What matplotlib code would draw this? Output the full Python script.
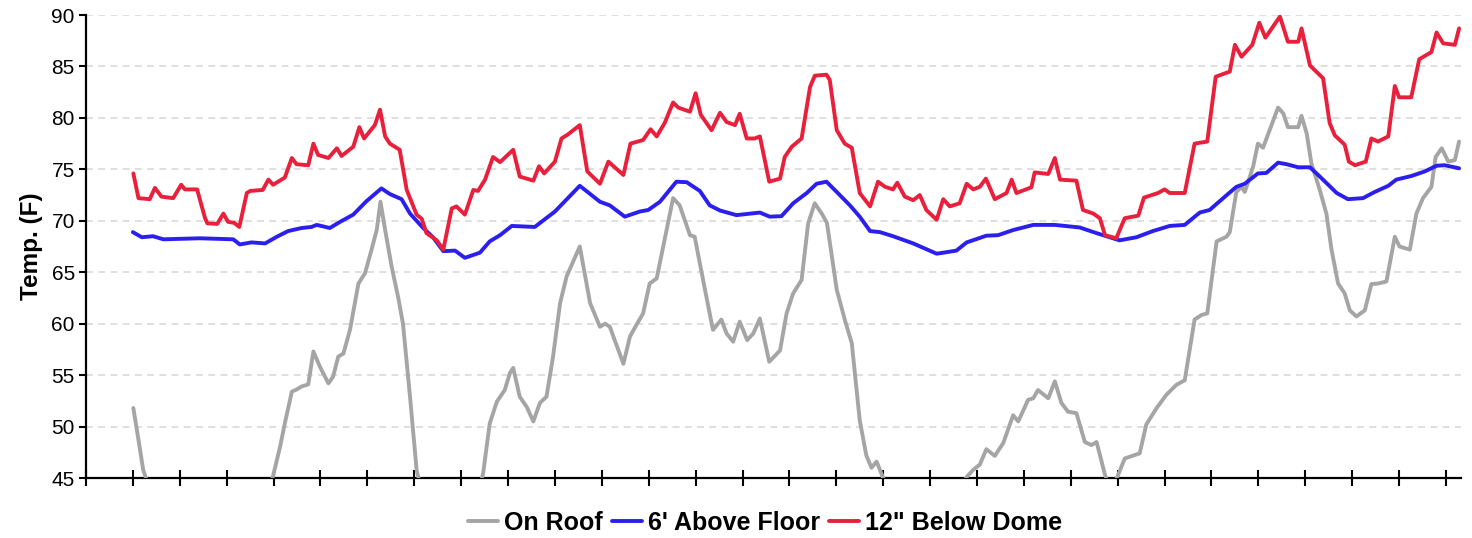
import matplotlib
matplotlib.use("Agg")
import matplotlib.pyplot as plt

plt.rcParams['font.family'] = ['Liberation Sans', 'DejaVu Sans']

# ---- data (time in tick intervals, temperature in F) ----
roof_t = [1.01, 1.12, 1.22, 1.5, 2.5, 3.5, 3.9,
          4.01, 4.14, 4.24, 4.39, 4.49, 4.60, 4.74, 4.85, 4.99, 5.17, 5.27, 5.38, 5.49,
          5.63, 5.81, 5.95, 6.09, 6.20, 6.28, 6.38, 6.52, 6.66, 6.76, 6.91, 7.05,
          7.3, 7.8, 8.3,
          8.47, 8.61, 8.76, 8.93, 9.04, 9.11, 9.25, 9.40, 9.54, 9.68, 9.82, 9.96, 10.11,
          10.25, 10.53, 10.75, 10.96, 11.07, 11.17, 11.46, 11.60, 11.74, 11.88, 12.02,
          12.17, 12.31, 12.52, 12.66, 12.88, 12.98, 13.20, 13.37, 13.55, 13.66, 13.80,
          13.94, 14.10, 14.23, 14.37, 14.57, 14.80, 14.94, 15.08, 15.26, 15.40, 15.54,
          15.69, 15.80, 16.01, 16.18, 16.33, 16.50, 16.64, 16.75, 16.86, 16.99,
          17.3, 17.8, 18.4,
          18.78, 18.92, 19.06, 19.20, 19.38, 19.56, 19.77, 19.88, 20.09, 20.20, 20.30,
          20.52, 20.66, 20.80, 20.94, 21.12, 21.30, 21.44, 21.55, 21.73, 21.85,
          22.01, 22.15, 22.47, 22.61, 22.83, 23.04, 23.25, 23.43, 23.64, 23.79, 23.91,
          24.11, 24.32, 24.39, 24.53, 24.64, 24.71, 24.89, 24.99, 25.10, 25.28, 25.42,
          25.53, 25.63, 25.85, 25.92, 26.03, 26.13, 26.31, 26.45, 26.56, 26.70, 26.84,
          26.95, 27.09, 27.27, 27.41, 27.55, 27.73, 27.91, 28.01, 28.23, 28.37, 28.51,
          28.69, 28.78, 28.91, 29.05, 29.19, 29.28]
roof_v = [51.8, 48.7, 45.8, 42.0, 38.0, 41.0, 43.5,
          45.6, 48.05, 50.3, 53.4, 53.6, 53.9, 54.1, 57.3, 55.8, 54.2, 54.85, 56.8, 57.1,
          59.4, 63.9, 64.9, 67.2, 69.1, 71.85, 69.1, 65.5, 62.5, 60.0, 52.9, 45.8,
          41.0, 39.0, 42.0,
          45.5, 50.3, 52.4, 53.55, 55.2, 55.7, 52.9, 51.9, 50.5, 52.3, 52.9, 56.8, 62.0,
          64.6, 67.5, 62.0, 59.7, 60.0, 59.7, 56.1, 58.75, 59.9, 61.0, 63.9,
          64.4, 67.5, 72.2, 71.5, 68.6, 68.45, 63.3, 59.4, 60.4, 59.05, 58.25,
          60.2, 58.4, 59.05, 60.5, 56.3, 57.4, 61.0, 62.95, 64.25, 69.75, 71.7,
          70.7, 69.8, 63.3, 60.4, 58.1, 50.6, 47.2, 46.0, 46.6, 45.1,
          42.0, 39.0, 42.0,
          45.1, 45.8, 46.3, 47.8, 47.15, 48.4, 51.1, 50.5, 52.6, 52.75, 53.55,
          52.75, 54.4, 52.3, 51.45, 51.3, 48.5, 48.2, 48.5, 45.3, 43.8,
          45.3, 46.9, 47.4, 50.2, 51.8, 53.1, 54.05, 54.5, 60.4, 60.85, 61.0,
          68.0, 68.45, 68.9, 72.8, 73.3, 72.8, 75.3, 77.5, 77.1, 79.3, 81.0,
          80.45, 79.1, 79.1, 80.2, 78.5, 75.6, 73.0, 70.7, 67.2, 63.9, 62.95,
          61.3, 60.7, 61.3, 63.85, 63.9, 64.1, 68.45, 67.5, 67.2, 70.7, 72.2,
          73.3, 76.2, 77.05, 75.75, 75.9, 77.7]

floor_t = [1.00, 1.19, 1.43, 1.65, 2.43, 3.14, 3.28, 3.53, 3.82, 4.07, 4.31, 4.60,
           4.81, 4.92, 5.20, 5.42, 5.70, 5.98, 6.30, 6.48, 6.73, 6.91, 7.19, 7.40,
           7.62, 7.87, 8.08, 8.40, 8.61, 8.83, 9.08, 9.57, 10.00, 10.53, 10.96, 11.17,
           11.49, 11.81, 11.99, 12.24, 12.59, 12.81, 13.09, 13.30, 13.52, 13.87, 14.37,
           14.58, 14.83, 15.08, 15.37, 15.58, 15.79, 16.01, 16.29, 16.50, 16.72, 16.93,
           17.21, 17.64, 18.14, 18.56, 18.78, 19.20, 19.45, 19.77, 20.20, 20.66, 21.19,
           21.55, 22.04, 22.40, 22.75, 23.11, 23.43, 23.75, 23.96, 24.25, 24.53, 24.71,
           24.99, 25.17, 25.42, 25.60, 25.85, 26.10, 26.31, 26.67, 26.91, 27.23, 27.48,
           27.77, 27.94, 28.26, 28.55, 28.80, 28.97, 29.28]
floor_v = [68.9, 68.4, 68.5, 68.2, 68.3, 68.2, 67.7, 67.9, 67.8, 68.45, 69.0, 69.3,
           69.4, 69.6, 69.3, 69.9, 70.6, 71.9, 73.15, 72.6, 72.1, 70.7, 69.3, 68.4,
           67.05, 67.1, 66.4, 66.9, 68.0, 68.6, 69.5, 69.4, 70.9, 73.4, 71.85, 71.5,
           70.4, 70.9, 71.05, 71.85, 73.8, 73.75, 72.9, 71.5, 71.0, 70.55, 70.8,
           70.4, 70.45, 71.7, 72.7, 73.6, 73.8, 72.8, 71.5, 70.4, 69.0, 68.9,
           68.5, 67.8, 66.8, 67.1, 67.9, 68.55, 68.6, 69.1, 69.6, 69.6, 69.35,
           68.8, 68.1, 68.4, 69.0, 69.5, 69.6, 70.8, 71.05, 72.2, 73.3, 73.6,
           74.6, 74.65, 75.65, 75.5, 75.2, 75.2, 74.3, 72.7, 72.1, 72.2, 72.8,
           73.4, 74.0, 74.35, 74.8, 75.35, 75.4, 75.1]

dome_t = [1.01, 1.12, 1.36, 1.47, 1.61, 1.86, 2.03, 2.11, 2.37, 2.54, 2.59, 2.80, 2.93,
          3.03, 3.16, 3.27, 3.43, 3.50, 3.77, 3.89, 3.99, 4.24, 4.39, 4.49, 4.74, 4.85,
          4.95, 5.17, 5.35, 5.45, 5.70, 5.83, 5.93, 6.16, 6.27, 6.38, 6.48, 6.69, 6.84,
          7.05, 7.16, 7.26, 7.48, 7.62, 7.80, 7.90, 8.08, 8.26, 8.36, 8.51, 8.68, 8.83,
          8.97, 9.11, 9.25, 9.54, 9.66, 9.77, 10.00, 10.14, 10.28, 10.53, 10.69, 10.96,
          11.14, 11.46, 11.61, 11.88, 12.04, 12.17, 12.34, 12.52, 12.63, 12.88, 13.00,
          13.11, 13.34, 13.52, 13.66, 13.84, 13.94, 14.09, 14.26, 14.37, 14.57, 14.80,
          14.90, 15.05, 15.26, 15.44, 15.54, 15.79, 15.86, 16.01, 16.18, 16.33, 16.50,
          16.72, 16.89, 17.04, 17.21, 17.30, 17.46, 17.64, 17.78, 17.92, 18.14, 18.28,
          18.42, 18.63, 18.78, 18.92, 19.06, 19.19, 19.38, 19.63, 19.74, 19.84, 20.16,
          20.23, 20.52, 20.66, 20.77, 21.12, 21.26, 21.48, 21.62, 21.73, 21.97, 22.15,
          22.44, 22.56, 22.86, 23.00, 23.11, 23.43, 23.64, 23.91, 24.09, 24.39, 24.50,
          24.64, 24.87, 25.02, 25.15, 25.46, 25.63, 25.85, 25.92, 26.10, 26.38, 26.52,
          26.63, 26.84, 26.93, 27.06, 27.29, 27.41, 27.55, 27.77, 27.91, 28.00, 28.26,
          28.43, 28.69, 28.80, 28.94, 29.19, 29.28]
dome_v = [74.6, 72.2, 72.1, 73.2, 72.35, 72.2, 73.5, 73.05, 73.05, 70.24, 69.75, 69.7, 70.7,
          69.9, 69.8, 69.4, 72.7, 72.9, 73.0, 74.0, 73.5, 74.2, 76.1, 75.5, 75.4, 77.5,
          76.4, 76.1, 77.05, 76.3, 77.2, 79.1, 78.0, 79.3, 80.8, 78.2, 77.5, 76.9, 73.0,
          70.6, 70.2, 68.8, 68.1, 67.2, 71.2, 71.4, 70.6, 73.0, 72.9, 74.0, 76.2, 75.7,
          76.3, 76.9, 74.3, 73.9, 75.3, 74.6, 75.75, 78.0, 78.4, 79.3, 74.8, 73.6,
          75.75, 74.45, 77.5, 77.85, 78.9, 78.2, 79.5, 81.5, 81.0, 80.6, 82.4,
          80.3, 78.8, 80.5, 79.6, 79.3, 80.4, 78.0, 78.0, 78.2, 73.8, 74.1,
          76.2, 77.2, 78.0, 83.0, 84.1, 84.2, 83.7, 78.8, 77.5, 77.1, 72.7,
          71.4, 73.8, 73.3, 73.05, 73.7, 72.35, 72.0, 72.5, 71.05, 70.1, 72.1,
          71.4, 71.7, 73.6, 73.05, 73.3, 74.1, 72.1, 72.7, 74.0, 72.7, 73.25,
          74.7, 74.55, 76.1, 74.0, 73.9, 71.05, 70.7, 70.25, 68.6, 68.3, 70.25,
          70.5, 72.25, 72.7, 73.05, 72.7, 72.7, 77.5, 77.7, 84.0, 84.5, 87.1,
          85.95, 87.1, 89.25, 87.8, 89.85, 87.4, 87.4, 88.7, 85.1, 83.85, 79.5,
          78.3, 77.4, 75.75, 75.4, 75.75, 78.0, 77.7, 78.2, 83.1, 82.0, 82.0,
          85.7, 86.4, 88.3, 87.25, 87.1, 88.7]

series_labels = ["On Roof", "6' Above Floor", '12" Below Dome']
y_ticks = [45, 50, 55, 60, 65, 70, 75, 80, 85, 90]
n_intervals = 29

# ---- figure ----
fig = plt.figure(figsize=(14.72, 5.38), dpi=100)
ax = fig.add_axes([0.0584, 0.1115, 0.9341, 0.8606])

line_kw = dict(lw=2.8, solid_joinstyle='round', solid_capstyle='round')
ax.plot(roof_t, roof_v, color='#a5a5a5', label=series_labels[0], zorder=3, **line_kw)
ax.plot(floor_t, floor_v, color='#2b1ff0', label=series_labels[1], zorder=4, **line_kw)
ax.plot(dome_t, dome_v, color='#e8203c', label=series_labels[2], zorder=5, **line_kw)

ax.set_ylim(45, 90)
ax.set_xlim(0, 29.32)
ax.set_yticks(y_ticks)
ax.set_xticks(range(0, n_intervals + 1))
ax.set_xticklabels([])

for s in ['top', 'right']:
    ax.spines[s].set_visible(False)
for s in ['left', 'bottom']:
    ax.spines[s].set_linewidth(1.6)
    ax.spines[s].set_color('black')

ax.tick_params(axis='y', direction='out', length=5, width=1.5, labelsize=15, pad=3)
ax.tick_params(axis='x', direction='inout', length=12, width=1.5)

ax.yaxis.grid(True, linestyle=(0, (4.5, 3.5)), color='#d6d6d6', lw=1.1)
ax.set_axisbelow(True)

ax.set_ylabel('Temp. (F)', fontsize=17.5, fontweight='bold', labelpad=6)

fig.legend(loc='center', bbox_to_anchor=(765 / 1472, 0.028), ncol=3, frameon=False,
           prop={'weight': 'bold', 'size': 18}, handlelength=1.2, handletextpad=0.25,
           columnspacing=0.35)

fig.savefig('out.png', dpi=100)
